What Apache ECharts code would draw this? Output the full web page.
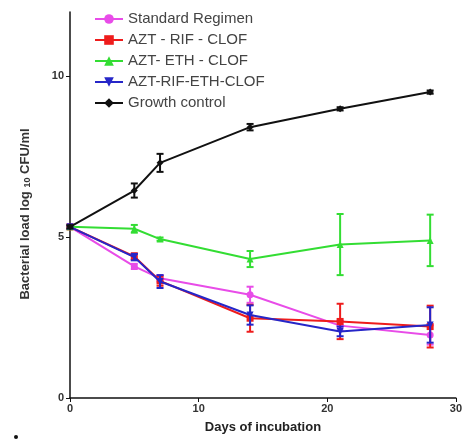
<!DOCTYPE html>
<html>
<head>
<meta charset="utf-8">
<script src="https://cdn.jsdelivr.net/npm/echarts@6/dist/echarts.min.js"></script>
<style>html,body{margin:0;padding:0;background:#fff;}#c{width:465px;height:443px;}</style>
</head>
<body>
<div id="c"></div>
<script>
const days = [0, 5, 7, 14, 21, 28];
const seriesNames = ['Standard Regimen', 'AZT - RIF - CLOF', 'AZT- ETH - CLOF', 'AZT-RIF-ETH-CLOF', 'Growth control'];
const standardMean = [5.32, 4.09, 3.72, 3.21, 2.25, 1.96];
const standardErr  = [0.05, 0.08, 0.10, 0.25, 0.15, 0.30];
const rifClofMean  = [5.32, 4.40, 3.64, 2.48, 2.38, 2.22];
const rifClofErr   = [0.05, 0.10, 0.15, 0.42, 0.55, 0.65];
const ethClofMean  = [5.32, 5.26, 4.94, 4.32, 4.77, 4.90];
const ethClofErr   = [0.05, 0.12, 0.05, 0.25, 0.95, 0.80];
const allFourMean  = [5.32, 4.38, 3.62, 2.58, 2.07, 2.27];
const allFourErr   = [0.05, 0.10, 0.20, 0.30, 0.15, 0.55];
const growthMean   = [5.32, 6.45, 7.31, 8.42, 8.99, 9.51];
const growthErr    = [0.05, 0.22, 0.28, 0.10, 0.05, 0.05];
const yTicks = [0, 5, 10];

const means = [standardMean, rifClofMean, ethClofMean, allFourMean, growthMean];
const errs = [standardErr, rifClofErr, ethClofErr, allFourErr, growthErr];
const colors = ['#e84ce8', '#ee1c1c', '#33dd33', '#2626c8', '#111111'];
const symbols = ['circle', 'rect', 'triangle', 'path://M0,0 L10,0 L5,9 Z', 'diamond'];

const chart = echarts.init(document.getElementById('c'));
const series = [];
means.forEach((m, i) => {
  series.push({
    type: 'custom',
    name: seriesNames[i] + ' err',
    data: days.map((d, k) => [d, m[k] - errs[i][k], m[k] + errs[i][k]]),
    z: 2 + i,
    silent: true,
    renderItem: function (params, api) {
      const lo = api.coord([api.value(0), api.value(1)]);
      const hi = api.coord([api.value(0), api.value(2)]);
      const w = 3.5;
      const st = { stroke: colors[i], lineWidth: 2 };
      return { type: 'group', children: [
        { type: 'line', shape: { x1: lo[0], y1: lo[1], x2: hi[0], y2: hi[1] }, style: st },
        { type: 'line', shape: { x1: lo[0] - w, y1: lo[1], x2: lo[0] + w, y2: lo[1] }, style: st },
        { type: 'line', shape: { x1: hi[0] - w, y1: hi[1], x2: hi[0] + w, y2: hi[1] }, style: st }
      ]};
    }
  });
  series.push({
    type: 'line',
    name: seriesNames[i],
    data: days.map((d, k) => [d, m[k]]),
    symbol: symbols[i],
    symbolSize: 7,
    z: 2 + i,
    itemStyle: { color: colors[i] },
    lineStyle: { color: colors[i], width: 2 }
  });
});

chart.setOption({
  animation: false,
  backgroundColor: '#fff',
  grid: { left: 70, right: 2, top: 12, bottom: 45, containLabel: false },
  legend: {
    data: seriesNames,
    orient: 'vertical',
    left: 89,
    top: 6,
    itemWidth: 28,
    itemHeight: 12,
    itemGap: 5,
    textStyle: { fontFamily: 'Liberation Sans, Arial', fontSize: 15, lineHeight: 16, color: '#444', padding: [0, 0, 0, 0] }
  },
  xAxis: {
    type: 'value', min: 0, max: 30, interval: 10,
    name: 'Days of incubation', nameLocation: 'middle', nameGap: 23,
    nameTextStyle: { fontFamily: 'Liberation Sans, Arial', fontWeight: 'bold', fontSize: 13, color: '#222' },
    axisLine: { onZero: false, lineStyle: { color: '#111', width: 1.5 } },
    axisTick: { show: true, length: 4, lineStyle: { color: '#111' } },
    axisLabel: { fontFamily: 'Liberation Sans, Arial', fontWeight: 'bold', fontSize: 11, color: '#333', margin: 5 },
    splitLine: { show: false }
  },
  yAxis: {
    type: 'value', min: 0, max: 12,
    name: '{a|Bacterial load log }{b|10}{a| CFU/ml}', nameLocation: 'middle', nameGap: 37,
    nameTextStyle: {
      padding: [0, 18, 0, 0],
      rich: {
        a: { fontFamily: 'Liberation Sans, Arial', fontWeight: 'bold', fontSize: 13, color: '#333', lineHeight: 16 },
        b: { fontFamily: 'Liberation Sans, Arial', fontWeight: 'bold', fontSize: 9, color: '#333', lineHeight: 16, padding: [6, 0, 0, 0] }
      }
    },
    axisLine: { show: true, onZero: false, lineStyle: { color: '#111', width: 1.5 } },
    axisTick: { show: true, length: 4, customValues: yTicks, lineStyle: { color: '#111' } },
    axisLabel: { customValues: yTicks, fontFamily: 'Liberation Sans, Arial', fontWeight: 'bold', fontSize: 11, color: '#333', margin: 6 },
    splitLine: { show: false }
  },
  graphic: [{ type: 'circle', shape: { cx: 16, cy: 437, r: 2 }, style: { fill: '#111' } }],
  series: series
});
</script>
</body>
</html>
